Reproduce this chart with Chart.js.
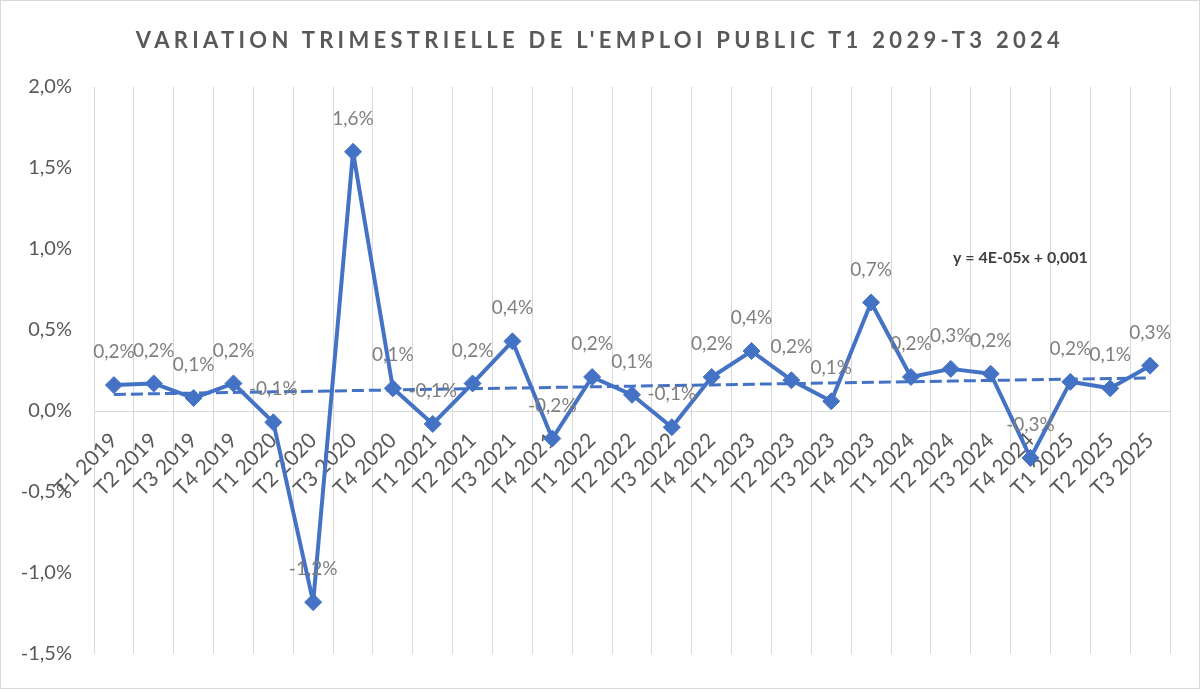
<!DOCTYPE html>
<html lang="fr">
<head>
<meta charset="utf-8">
<title>Variation trimestrielle de l'emploi public</title>
<script src="https://cdn.jsdelivr.net/npm/chart.js@4.4.1/dist/chart.umd.min.js"></script>
<style>
    html, body { margin: 0; padding: 0; background: #fff; }
    #wrap {
        position: relative;
        width: 1200px;
        height: 689px;
        box-sizing: border-box;
        border: 1px solid #d9d9d9;
        font-family: Lato, "Open Sans", sans-serif;
    }
    #chart-title {
        position: absolute;
        left: 0;
        right: 0;
        top: 25px;
        text-align: center;
        font-size: 22px;
        font-weight: bold;
        letter-spacing: 4.3px;
        color: #595959;
        z-index: 2;
    }
    #canvas-box { position: absolute; left: 0; top: 0; width: 1198px; height: 687px; }
</style>
</head>
<body>
<div id="wrap">
    <div id="chart-title">VARIATION TRIMESTRIELLE DE L'EMPLOI PUBLIC T1 2029-T3 2024</div>
    <div id="canvas-box"><canvas id="emploiChart"></canvas></div>
</div>
<script>
// Trimestres
const quarters = [
    'T1 2019', 'T2 2019', 'T3 2019', 'T4 2019',
    'T1 2020', 'T2 2020', 'T3 2020', 'T4 2020',
    'T1 2021', 'T2 2021', 'T3 2021', 'T4 2021',
    'T1 2022', 'T2 2022', 'T3 2022', 'T4 2022',
    'T1 2023', 'T2 2023', 'T3 2023', 'T4 2023',
    'T1 2024', 'T2 2024', 'T3 2024', 'T4 2024',
    'T1 2025', 'T2 2025', 'T3 2025'
];

// Variation trimestrielle (en %)
const variation = [
    0.16, 0.17, 0.08, 0.17,
    -0.07, -1.18, 1.60, 0.14,
    -0.08, 0.17, 0.43, -0.17,
    0.21, 0.10, -0.10, 0.21,
    0.37, 0.19, 0.06, 0.67,
    0.21, 0.26, 0.23, -0.29,
    0.18, 0.14, 0.28
];

// Graduations de l'axe vertical (en %)
const yTicks = [-1.5, -1.0, -0.5, 0.0, 0.5, 1.0, 1.5, 2.0];

const trendLabel = 'y = 4E-05x + 0,001';

const lineColor = '#4472C4';

// Courbe de tendance linéaire (moindres carrés sur les données)
function linearTrend(values) {
    const n = values.length;
    let sx = 0, sy = 0, sxy = 0, sxx = 0;
    values.forEach((v, i) => {
        const x = i + 1;
        sx += x; sy += v; sxy += x * v; sxx += x * x;
    });
    const slope = (n * sxy - sx * sy) / (n * sxx - sx * sx);
    const intercept = (sy - slope * sx) / n;
    return values.map((v, i) => intercept + slope * (i + 1));
}

function formatPct(v) {
    return (Math.round(v * 10) / 10).toFixed(1).replace('.', ',') + '%';
}

// Étiquettes de données au-dessus des points
const dataLabels = {
    id: 'dataLabels',
    afterDatasetsDraw(chart) {
        const ctx = chart.ctx;
        const meta = chart.getDatasetMeta(0);
        ctx.save();
        ctx.font = '19px Lato, "Open Sans", sans-serif';
        ctx.fillStyle = '#7f7f7f';
        ctx.textAlign = 'center';
        ctx.textBaseline = 'middle';
        meta.data.forEach((pt, i) => {
            ctx.fillText(formatPct(variation[i]), pt.x, pt.y - 33);
        });
        // Équation de la tendance
        ctx.font = 'bold 16px Lato, "Open Sans", sans-serif';
        ctx.fillStyle = '#404040';
        ctx.textAlign = 'left';
        ctx.fillText(trendLabel, chart.chartArea.left + 859, chart.chartArea.top + 171);
        ctx.restore();
    }
};

const ctx = document.getElementById('emploiChart').getContext('2d');

new Chart(ctx, {
    type: 'line',
    data: {
        labels: quarters,
        datasets: [{
            label: 'Variation',
            data: variation,
            borderColor: lineColor,
            backgroundColor: lineColor,
            borderWidth: 4,
            borderJoinStyle: 'round',
            pointStyle: 'rectRot',
            pointRadius: 8.5,
            pointHoverRadius: 8.5,
            pointBorderWidth: 1,
            tension: 0,
            order: 1
        }, {
            label: 'Tendance',
            data: linearTrend(variation),
            borderColor: lineColor,
            borderWidth: 3,
            borderDash: [12, 5],
            pointRadius: 0,
            tension: 0,
            order: 0
        }]
    },
    options: {
        responsive: true,
        maintainAspectRatio: false,
        animation: false,
        layout: {
            padding: { top: 86, bottom: 30, left: 0, right: 29 }
        },
        plugins: {
            legend: { display: false },
            tooltip: { enabled: false }
        },
        scales: {
            x: {
                position: { y: 0 },
                offset: true,
                afterFit: function(scale) { scale.height = 0; },
                grid: {
                    offset: true,
                    color: '#d9d9d9',
                    lineWidth: 1,
                    drawTicks: false
                },
                border: { color: '#d9d9d9', width: 1 },
                ticks: {
                    autoSkip: false,
                    minRotation: 45,
                    maxRotation: 45,
                    padding: 17,
                    color: '#595959',
                    font: { family: 'Lato, "Open Sans", sans-serif', size: 21 }
                }
            },
            y: {
                min: -1.5,
                max: 2.0,
                afterFit: function(scale) { scale.width = 93; },
                afterBuildTicks: function(scale) {
                    scale.ticks = yTicks.map(v => ({ value: v }));
                },
                grid: { display: false, drawTicks: false },
                border: { display: false },
                ticks: {
                    padding: 22,
                    color: '#595959',
                    font: { family: 'Lato, "Open Sans", sans-serif', size: 20 },
                    callback: function(value) {
                        return value.toFixed(1).replace('.', ',') + '%';
                    }
                }
            }
        }
    },
    plugins: [dataLabels]
});
</script>
</body>
</html>
